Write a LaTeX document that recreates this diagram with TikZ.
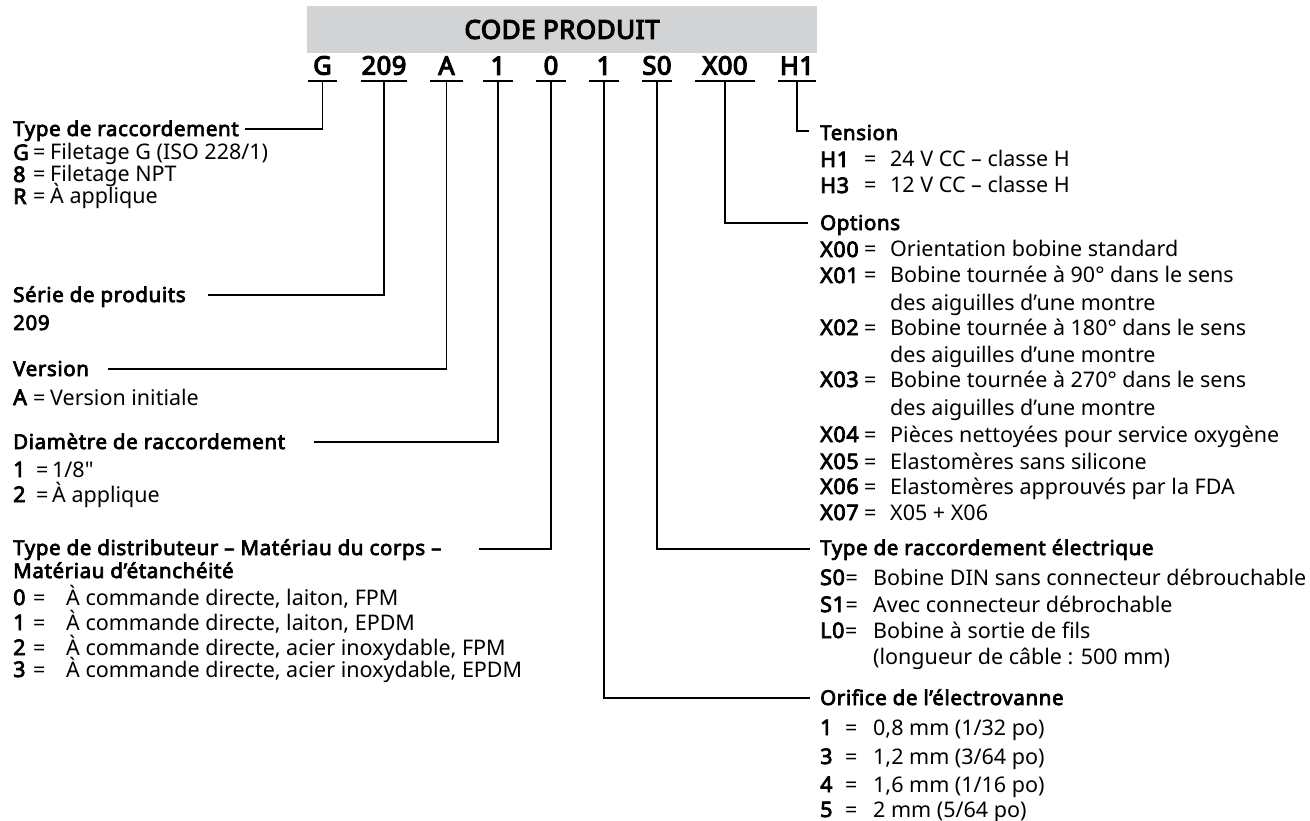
\documentclass[tikz,border=0pt]{standalone}
\usepackage{fontspec}
\setmainfont{Noto Sans}[BoldFont={Noto Sans}, BoldFeatures={FakeBold=3.5, LetterSpace=3}]
\newfontfamily\codefont{Noto Sans}[FakeBold=4.5, LetterSpace=2]
\usepackage{tikz}

\definecolor{bargray}{HTML}{D1D3D4}

% key, equal sign and value on one row
\newcommand{\entry}[4]{\makebox[#1][l]{\textbf{#3}}\makebox[#2][l]{=}#4}

\begin{document}
\begin{tikzpicture}[x=1pt, y=-1pt,
    every node/.style={inner sep=0pt, font=\fontsize{21.5}{26}\selectfont},
    hdr/.style={anchor=base west, font=\fontsize{20.5}{25}\selectfont\bfseries},
    row/.style={anchor=base west},
    code/.style={anchor=south, inner xsep=0pt, inner ysep=6pt, font=\fontsize{25.5}{30}\codefont},
    link/.style={line width=1.9pt},
    uline/.style={line width=2pt}]

    \useasboundingbox (0,0) rectangle (1310,821);

    % Product code bar
    \node[fill=bargray, minimum width=510pt, minimum height=47pt, font=\fontsize{26}{30}\codefont] (bar) at (562,29.5) {CODE PRODUIT};

    \node[code, minimum width=29pt] (cG) at (322.5,81) {G};
    \node[code, minimum width=46pt] (c209) at (384,81) {209};
    \node[code, minimum width=33pt] (cA) at (446.5,81) {A};
    \node[code, minimum width=30pt] (cDia) at (498,81) {1};
    \node[code, minimum width=30pt] (cDist) at (551,81) {0};
    \node[code, minimum width=30pt] (cOrif) at (604,81) {1};
    \node[code, minimum width=30pt] (cS) at (657,81) {S0};
    \node[code, minimum width=60pt] (cX) at (725,81) {X00};
    \node[code, minimum width=38pt] (cH) at (797,81) {H1};

    \foreach \c in {cG,c209,cA,cDia,cDist,cOrif,cS,cX,cH}
        \draw[uline] (\c.south west) -- (\c.south east);

    % Left column
    \node[hdr] (lTR) at (13,136) {Type de raccordement};
    \node[row] (tr1) at (13,160) {\entry{20pt}{17pt}{G}{Filetage G (ISO 228/1)}};
    \node[row] (tr2) at (13,182) {\entry{20pt}{17pt}{8}{Filetage NPT}};
    \node[row] (tr3) at (13,204) {\entry{20pt}{17pt}{R}{À applique}};

    \node[hdr] (lSP) at (13,302) {Série de produits};
    \node[hdr] (sp1) at (13,330) {209};

    \node[hdr] (lVer) at (13,376) {Version};
    \node[row] (ver1) at (13,405) {\entry{20pt}{17pt}{A}{Version initiale}};

    \node[hdr] (lDia) at (13,449) {Diamètre de raccordement};
    \node[row] (dia1) at (13,477) {\entry{23pt}{16pt}{1}{1/8\textquotedbl}};
    \node[row] (dia2) at (13,502) {\entry{23pt}{16pt}{2}{À applique}};

    \node[hdr] (lDist) at (13,555) {Type de distributeur – Matériau du corps –};
    \node[hdr] (lDist2) at (13,578) {Matériau d’étanchéité};
    \node[row] (dist1) at (13,605) {\entry{20pt}{33pt}{0}{À commande directe, laiton, FPM}};
    \node[row] (dist2) at (13,630) {\entry{20pt}{33pt}{1}{À commande directe, laiton, EPDM}};
    \node[row] (dist3) at (13,655) {\entry{20pt}{33pt}{2}{À commande directe, acier inoxydable, FPM}};
    \node[row] (dist4) at (13,677) {\entry{20pt}{33pt}{3}{À commande directe, acier inoxydable, EPDM}};

    % Right column
    \node[hdr] (lTen) at (820,140) {Tension};
    \node[row] (ten1) at (820,167) {\entry{44pt}{26pt}{H1}{24 V CC – classe H}};
    \node[row] (ten2) at (820,193) {\entry{44pt}{26pt}{H3}{12 V CC – classe H}};

    \node[hdr] (lOpt) at (820,230) {Options};
    \node[row] (opt1) at (820,257) {\entry{44pt}{26pt}{X00}{Orientation bobine standard}};
    \node[row] (opt2) at (820,283) {\entry{44pt}{26pt}{X01}{Bobine tournée à 90° dans le sens}};
    \node[row] (opt2b) at (890,310) {des aiguilles d’une montre};
    \node[row] (opt3) at (820,335) {\entry{44pt}{26pt}{X02}{Bobine tournée à 180° dans le sens}};
    \node[row] (opt3b) at (890,362) {des aiguilles d’une montre};
    \node[row] (opt4) at (820,387) {\entry{44pt}{26pt}{X03}{Bobine tournée à 270° dans le sens}};
    \node[row] (opt4b) at (890,415) {des aiguilles d’une montre};
    \node[row] (opt5) at (820,442) {\entry{44pt}{26pt}{X04}{Pièces nettoyées pour service oxygène}};
    \node[row] (opt6) at (820,469) {\entry{44pt}{26pt}{X05}{Elastomères sans silicone}};
    \node[row] (opt7) at (820,494) {\entry{44pt}{26pt}{X06}{Elastomères approuvés par la FDA}};
    \node[row] (opt8) at (820,520) {\entry{44pt}{26pt}{X07}{X05 + X06}};

    \node[hdr] (lElec) at (820,555) {Type de raccordement électrique};
    \node[row] (elec1) at (820,585) {\makebox[53pt][l]{\textbf{S0}=}Bobine DIN sans connecteur débrouchable};
    \node[row] (elec2) at (820,612) {\makebox[53pt][l]{\textbf{S1}=}Avec connecteur débrochable};
    \node[row] (elec3) at (820,638) {\makebox[53pt][l]{\textbf{L0}=}Bobine à sortie de fils};
    \node[row] (elec3b) at (873,664) {(longueur de câble : 500 mm)};

    \node[hdr] (lOrif) at (820,705) {Orifice de l’électrovanne};
    \node[row] (orif1) at (820,735) {\entry{25pt}{28pt}{1}{0,8 mm (1/32 po)}};
    \node[row] (orif2) at (820,764) {\entry{25pt}{28pt}{3}{1,2 mm (3/64 po)}};
    \node[row] (orif3) at (820,792) {\entry{25pt}{28pt}{4}{1,6 mm (1/16 po)}};
    \node[row] (orif4) at (820,817) {\entry{25pt}{28pt}{5}{2 mm (5/64 po)}};

    % Connector ends
    \coordinate (eTR) at (245,129);
    \coordinate (eSP) at (208,295);
    \coordinate (eVer) at (108,369);
    \coordinate (eDia) at (314,442);
    \coordinate (eDist) at (479,549);
    \coordinate (eTen) at (809,131);
    \coordinate (eOpt) at (808,223);
    \coordinate (eElec) at (810,549);
    \coordinate (eOrif) at (810,698);

    % Connectors
    \draw[link] (cG.south) |- (eTR);
    \draw[link] (c209.south) |- (eSP);
    \draw[link] (cA.south) |- (eVer);
    \draw[link] (cDia.south) |- (eDia);
    \draw[link] (cDist.south) |- (eDist);
    \draw[link] (cOrif.south) |- (eOrif);
    \draw[link] (cS.south) |- (eElec);
    \draw[link] (cX.south) |- (eOpt);
    \draw[link] (cH.south) |- (eTen);
\end{tikzpicture}
\end{document}
